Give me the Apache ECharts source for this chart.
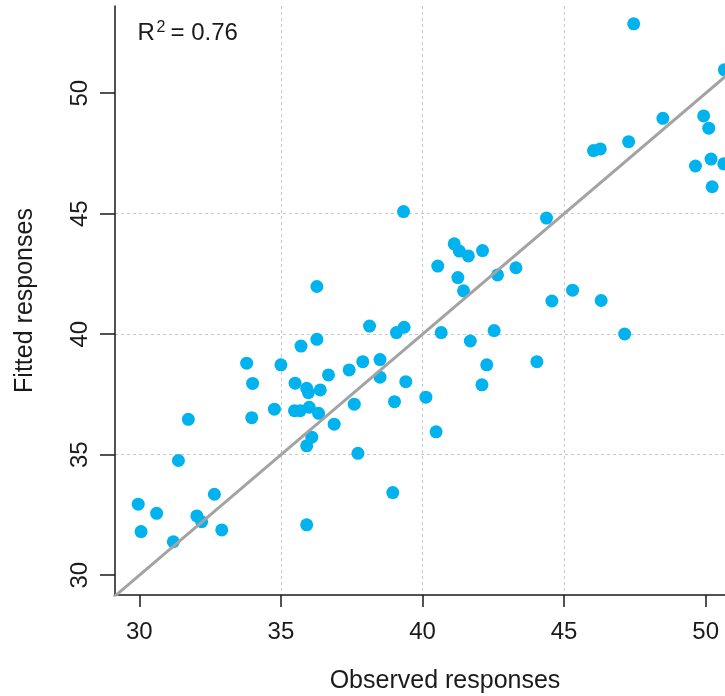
<!DOCTYPE html>
<html><head><meta charset="utf-8">
<script src="https://cdn.jsdelivr.net/npm/echarts@6/dist/echarts.min.js"></script>
<style>html,body{margin:0;padding:0;background:#fff}#chart{width:725px;height:696px}</style>
</head><body><div id="chart"></div>
<script>
// ---- data ----
const observed = [
  29.96, 30.61, 30.06, 31.20, 32.65, 32.03, 32.20, 32.91, 35.91, 38.95,
  31.38, 31.73, 33.97, 34.77, 35.48, 35.68, 36.00, 36.33, 36.88, 36.09,
  35.91, 37.72, 37.59, 39.01, 38.50, 39.41, 40.12, 40.48, 33.79, 35.00,
  34.00, 35.50, 35.91, 35.97, 36.39, 36.68, 37.41, 37.89, 38.50, 35.71,
  36.27, 36.27, 38.13, 39.08, 39.35, 40.66, 39.33, 40.54, 41.12, 41.30,
  41.62, 42.12, 41.25, 41.45, 42.65, 43.30, 41.69, 42.53, 42.27, 42.10,
  44.04, 44.57, 45.30, 46.31, 47.14, 44.38, 46.04, 46.28, 47.28, 48.49,
  47.46, 49.93, 50.11, 50.19, 49.64, 50.64, 50.23, 50.66
];
const fitted = [
  32.95, 32.57, 31.81, 31.39, 33.36, 32.46, 32.22, 31.88, 32.09, 33.43,
  34.76, 36.47, 36.54, 36.89, 36.83, 36.83, 36.97, 36.72, 36.27, 35.73,
  35.37, 35.06, 37.10, 37.20, 38.22, 38.03, 37.39, 35.95, 38.80, 38.73,
  37.96, 37.97, 37.76, 37.58, 37.69, 38.31, 38.52, 38.86, 38.95, 39.51,
  39.79, 41.98, 40.34, 40.07, 40.29, 40.07, 45.09, 42.83, 43.75, 43.45,
  43.25, 43.47, 42.35, 41.80, 42.46, 42.76, 39.72, 40.15, 38.73, 37.90,
  38.86, 41.38, 41.83, 41.40, 40.01, 44.82, 47.62, 47.69, 47.99, 48.96,
  52.88, 49.06, 48.55, 47.27, 46.98, 47.07, 46.12, 50.97
];
const xTicks = [30, 35, 40, 45, 50];
const yTicks = [30, 35, 40, 45, 50];
const identityLine = [29, 53];          // the 1:1 reference line y = x
const xTitle = 'Observed responses';
const yTitle = 'Fitted responses';
const r2Value = '0.76';

// ---- chart ----
const chart = echarts.init(document.getElementById('chart'), null, {renderer: 'canvas'});
const FONT = '"Liberation Sans", Arial, sans-serif';
const INK = '#1a1a1a';
const gridLine = {show: true, showMinLine: false, showMaxLine: false,
  lineStyle: {color: '#c9c9c9', width: 1, type: [3, 3]}};

const option = {
  animation: false,
  backgroundColor: '#ffffff',
  // plot region runs past the right edge of the picture (as in the reference crop)
  grid: {left: 115, top: 6, width: 660, height: 589, containLabel: false,
    outerBoundsMode: 'none'},
  xAxis: {
    type: 'value', min: 29.14, max: 52.45, splitNumber: 5,
    name: xTitle, nameLocation: 'middle', nameGap: 74,
    nameTextStyle: {fontFamily: FONT, fontSize: 25, color: INK},
    axisLine: {show: true, onZero: false, lineStyle: {color: INK, width: 1.5}},
    axisTick: {show: true, inside: false, length: 12, customValues: xTicks,
      lineStyle: {color: INK, width: 1.5}},
    axisLabel: {show: true, customValues: xTicks, margin: 25,
      fontFamily: FONT, fontSize: 24, color: INK},
    splitLine: gridLine
  },
  yAxis: {
    type: 'value', min: 29.18, max: 53.62, splitNumber: 5,
    name: yTitle, nameLocation: 'middle', nameGap: 77,
    nameTextStyle: {fontFamily: FONT, fontSize: 25, color: INK},
    axisLine: {show: true, onZero: false, lineStyle: {color: INK, width: 1.5}},
    axisTick: {show: true, inside: false, length: 15, customValues: yTicks,
      lineStyle: {color: INK, width: 1.5}},
    axisLabel: {show: true, customValues: yTicks, rotate: 90, margin: 23,
      fontFamily: FONT, fontSize: 24, color: INK},
    splitLine: gridLine
  },
  series: [
    {
      type: 'scatter',
      data: observed.map((x, i) => [x, fitted[i]]),
      symbol: 'circle', symbolSize: 13,
      itemStyle: {color: '#00B2EE', opacity: 1},
      z: 2, silent: true
    },
    {
      type: 'line',
      data: identityLine.map(v => [v, v]),
      showSymbol: false, symbol: 'none', clip: true,
      lineStyle: {color: '#a3a3a3', width: 3},
      z: 3, silent: true
    }
  ],
  graphic: [
    {type: 'text', x: 137.5, y: 33.5, z: 10,
      style: {text: 'R', font: '24px ' + FONT, fill: INK,
        verticalAlign: 'middle', textVerticalAlign: 'middle'}},
    {type: 'text', x: 156.5, y: 27.5, z: 10,
      style: {text: '2', font: '16px ' + FONT, fill: INK,
        verticalAlign: 'middle', textVerticalAlign: 'middle'}},
    {type: 'text', x: 170.5, y: 33.5, z: 10,
      style: {text: '= ' + r2Value, font: '24px ' + FONT, fill: INK,
        verticalAlign: 'middle', textVerticalAlign: 'middle'}}
  ]
};
chart.setOption(option);
</script>
</body></html>
